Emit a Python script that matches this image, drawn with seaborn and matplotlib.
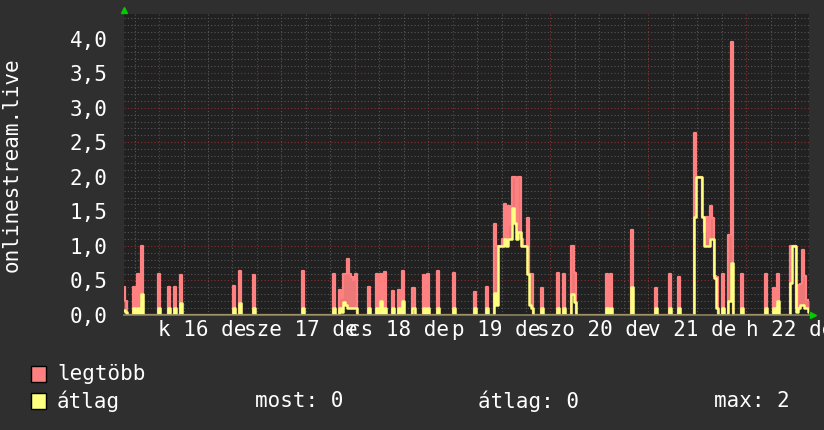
import matplotlib
matplotlib.use('Agg')
import matplotlib.pyplot as plt
from matplotlib.patches import Rectangle
from matplotlib.ticker import MultipleLocator, FixedLocator, FuncFormatter
import numpy as np
import pandas as pd
import seaborn as sns

# one week in 30 minute slots, counted from the left edge of the graph
n_slots = 336
midnight_16 = 8.6  # hours from left edge to the 16th, 00:00

day_labels = ['k 16 de', 'sze 17 de', 'cs 18 de', 'p 19 de', 'szo 20 de', 'v 21 de', 'h 22 de']

# non-zero slots
peak_slot = [0, 1, 5, 7, 9, 17, 22, 25, 28, 54, 57, 64, 88, 103,
             106, 107, 108, 109, 110, 111, 112, 113, 114, 120, 124, 126, 128,
             132, 135, 137, 142, 147, 149, 154, 162, 172, 178,
             182, 183, 184, 185, 186, 187, 188, 189, 190, 191, 192, 193, 194,
             195, 196, 197, 198, 199, 200, 205, 213, 216, 220, 221, 237, 239,
             249, 261, 268, 272,
             280, 281, 282, 283, 284, 285, 286, 287, 288, 289, 290, 291,
             294, 297, 298, 303, 315, 319, 321,
             327, 328, 329, 330, 331, 332, 333, 334, 335, 336]
peak_max = [0.40, 0.20, 0.40, 0.60, 1.00, 0.60, 0.40, 0.40, 0.58, 0.42, 0.63, 0.58, 0.63, 0.59,
            0.36, 0.25, 0.59, 0.59, 0.81, 0.60, 0.55, 0.50, 0.60, 0.40, 0.60, 0.60, 0.62,
            0.35, 0.36, 0.63, 0.39, 0.58, 0.60, 0.63, 0.61, 0.34, 0.41,
            1.32, 1.00, 1.00, 1.00, 1.10, 1.60, 1.10, 1.58, 1.30, 2.00, 2.00, 1.30, 2.00,
            1.10, 1.00, 1.00, 1.40, 0.59, 0.59, 0.39, 0.61, 0.59, 1.00, 0.61, 0.60, 0.60,
            1.23, 0.39, 0.60, 0.55,
            2.63, 2.00, 2.00, 2.00, 1.42, 1.20, 1.42, 1.10, 1.58, 1.40, 0.57, 0.55,
            0.60, 1.16, 3.95, 0.59, 0.60, 0.39, 0.59,
            1.00, 1.00, 1.00, 0.10, 0.43, 0.45, 0.94, 0.56, 0.21, 0.21]
peak_avg = [0.07, 0.05, 0.10, 0.10, 0.30, 0.10, 0.10, 0.10, 0.17, 0.10, 0.18, 0.10, 0.10, 0.10,
            0.10, 0.05, 0.19, 0.15, 0.10, 0.10, 0.10, 0.10, 0.10, 0.10, 0.10, 0.20, 0.10,
            0.10, 0.10, 0.20, 0.10, 0.10, 0.10, 0.10, 0.10, 0.10, 0.10,
            0.32, 0.15, 1.00, 1.00, 1.00, 1.10, 1.00, 1.10, 1.10, 1.55, 1.33, 1.10, 1.20,
            1.00, 1.00, 1.00, 0.60, 0.15, 0.10, 0.10, 0.10, 0.10, 0.30, 0.19, 0.10, 0.10,
            0.41, 0.10, 0.10, 0.10,
            1.42, 2.00, 2.00, 2.00, 1.42, 1.00, 1.00, 1.00, 1.10, 1.10, 0.53, 0.10,
            0.10, 0.20, 0.75, 0.10, 0.10, 0.10, 0.20,
            0.46, 1.00, 1.00, 0.05, 0.10, 0.15, 0.15, 0.10, 0.10, 0.05]

legend_names = ['legtöbb', 'átlag']
stat_labels = ['most: 0', 'átlag: 0', 'max: 2']
ylabel = 'onlinestream.live'

RED = '#ff8080'
YELLOW = '#ffff80'
BG = '#2f2f2f'
PLOT_BG = '#212121'

hours = np.arange(n_slots + 1) * 0.5
max_vals = np.zeros(n_slots + 1)
max_vals[peak_slot] = peak_max
avg_vals = np.zeros(n_slots + 1)
avg_vals[peak_slot] = peak_avg
df = pd.DataFrame({'hour': hours, 'legtöbb': max_vals, 'átlag': avg_vals})

sns.set_theme(style='dark', rc={'axes.facecolor': PLOT_BG, 'figure.facecolor': BG})
plt.rcParams['font.family'] = ['DejaVu Sans Mono', 'DejaVu Sans']

fig = plt.figure(figsize=(8.24, 4.3), dpi=100)
ax = fig.add_axes([124 / 824, 115 / 430, 685 / 824, 301 / 430])

ax.fill_between(df['hour'], df['átlag'], df['legtöbb'], step='mid', color=RED, alpha=0.92, lw=0, zorder=3)
sns.lineplot(data=df, x='hour', y='legtöbb', color=RED, lw=1.6, drawstyle='steps-mid', ax=ax, zorder=3)
sns.lineplot(data=df, x='hour', y='átlag', color=YELLOW, lw=1.8, drawstyle='steps-mid', ax=ax, zorder=4)

ax.set_xlim(0, 168)
ax.set_ylim(0, 4.356)
ax.set_xlabel('')
ax.set_ylabel('')

ax.yaxis.set_major_locator(MultipleLocator(0.5))
ax.yaxis.set_minor_locator(MultipleLocator(0.1))
ax.xaxis.set_major_locator(FixedLocator(midnight_16 + 24 * np.arange(7)))
ax.xaxis.set_minor_locator(FixedLocator(np.arange(midnight_16 - 6, 168, 6)))
ax.yaxis.set_major_formatter(FuncFormatter(lambda v, p: f'{v:.1f}'.replace('.', ',')))
ax.set_axisbelow(True)
ax.grid(which='minor', color='#565656', ls=(0, (1, 2)), lw=0.8)
ax.grid(which='major', color='#8a3030', ls=(0, (1, 2)), lw=0.8)

ax.tick_params(axis='both', which='both', length=0)
ax.tick_params(axis='y', labelsize=15, labelcolor='white', pad=12)
ax.tick_params(axis='x', labelbottom=False)

for s in ['top', 'right', 'left']:
    ax.spines[s].set_visible(False)
ax.spines['bottom'].set_color('#8a8460')
ax.spines['bottom'].set_linewidth(1.2)
ax.spines['bottom'].set_zorder(5)

# day labels: centred by character count (monospace), so they overlap like rrdtool's
char_h = 12.54 / (685 / 168)  # one character cell, in hours
for i, lab in enumerate(day_labels):
    x0 = midnight_16 + 24 * i + 10.6 - len(lab) * char_h / 2
    ax.text(x0, -0.05, lab, transform=ax.get_xaxis_transform(),
            ha='left', va='center', fontsize=15, color='white')

# little green arrows at the axis ends
ax.plot([0], [1.013], marker='^', color='#00cc00', ms=5, transform=ax.transAxes, clip_on=False)
ax.plot([1.006], [0], marker='>', color='#00cc00', ms=5, transform=ax.transAxes, clip_on=False)

fig.text(12 / 824, 1 - 165 / 430, ylabel, rotation=90, ha='center', va='center', fontsize=15, color='white')

# legend
for (name, col, yc) in zip(legend_names, [RED, YELLOW], [374, 401]):
    fig.add_artist(Rectangle((31 / 824, 1 - (yc + 8) / 430), 15 / 824, 16 / 430,
                             transform=fig.transFigure, facecolor=col, edgecolor='black', lw=1))
    fig.text(57 / 824, 1 - yc / 430, name, ha='left', va='center', fontsize=15, color='white')

for lab, xl in zip(stat_labels, [255, 478, 714]):
    fig.text(xl / 824, 1 - 401 / 430, lab, ha='left', va='center', fontsize=15, color='white')

plt.savefig('out.png', dpi=100, facecolor=BG)
